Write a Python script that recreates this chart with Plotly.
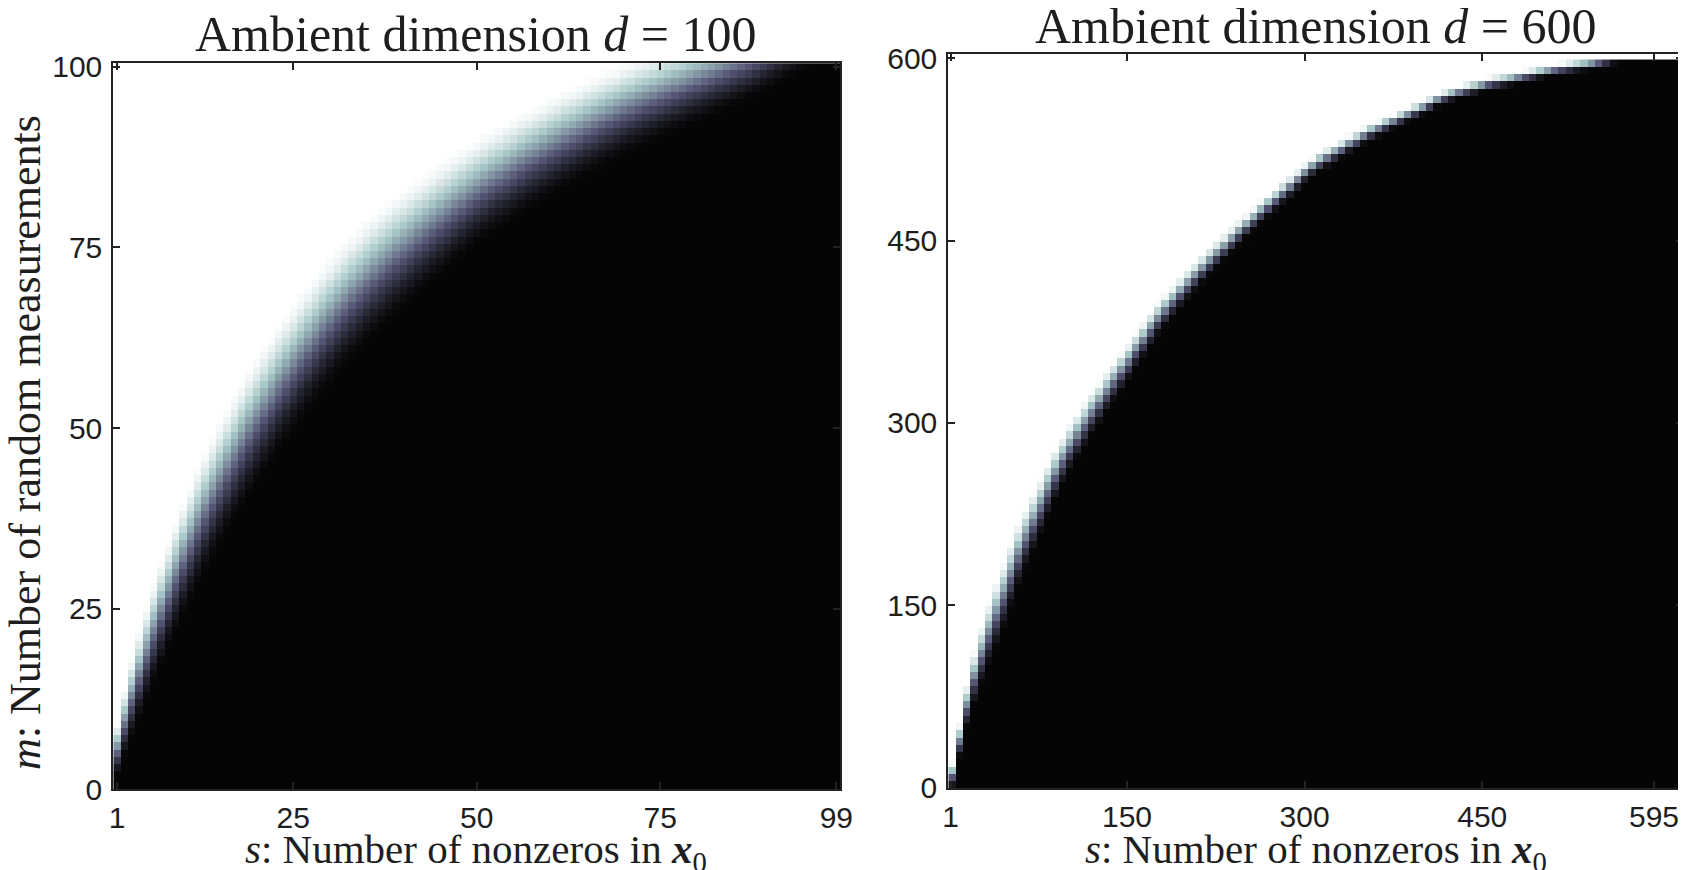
import numpy as np
import plotly.graph_objects as go

# ---------------- data ----------------
# Left panel: d = 100, columns s = 1..99, rows m = 0..100
left_s = list(range(1, 100))
left_m = list(range(0, 101))
# m at which the success probability is about 1/2, for each column s
left_m50 = [5.5, 9.2, 12.6, 15.8, 18.8, 21.7, 24.4, 27.0, 29.5, 31.9,
            34.2, 36.4, 38.5, 40.5, 42.4, 44.2, 46.0, 47.7, 49.4, 51.0,
            52.6, 54.1, 55.6, 57.0, 58.4, 59.8, 61.1, 62.4, 63.7, 64.9,
            66.1, 67.2, 68.3, 69.3, 70.3, 71.3, 72.2, 73.1, 74.0, 74.8,
            75.6, 76.5, 77.3, 78.1, 78.9, 79.7, 80.5, 81.2, 82.0, 82.7,
            83.4, 84.1, 84.7, 85.3, 85.9, 86.6, 87.2, 87.7, 88.3, 88.9,
            89.4, 90.0, 90.5, 91.0, 91.6, 92.1, 92.6, 93.1, 93.6, 94.1,
            94.5, 95.0, 95.4, 95.8, 96.2, 96.6, 97.0, 97.4, 97.8, 98.2,
            98.6, 99.0, 99.4, 99.8, 100.2, 100.6, 101.0, 101.5, 102.0, 102.5,
            103.0, 103.5, 104.0, 104.6, 105.2, 105.8, 106.4, 107.0, 107.6]
# half-width (in m) of the grey transition band, per column
left_w = [4.0, 5.0, 6.0, 6.6, 7.0, 7.4, 7.7, 8.0, 8.3, 8.5,
          8.7, 8.9, 9.0, 9.1, 9.2, 9.3, 9.4, 9.4, 9.5, 9.5,
          9.5, 9.5, 9.5, 9.5, 9.5, 9.5, 9.5, 9.5, 9.5, 9.5,
          9.4, 9.4, 9.3, 9.3, 9.2, 9.2, 9.1, 9.0, 9.0, 8.9,
          8.8, 8.7, 8.6, 8.5, 8.4, 8.3, 8.2, 8.1, 8.0, 7.9,
          7.8, 7.8, 7.7, 7.7, 7.6, 7.6, 7.5, 7.5, 7.4, 7.4,
          7.3, 7.3, 7.2, 7.2, 7.1, 7.1, 7.0, 7.0, 6.9, 6.9,
          6.8, 6.8, 6.7, 6.7, 6.6, 6.6, 6.5, 6.5, 6.4, 6.4,
          6.3, 6.3, 6.2, 6.2, 6.1, 6.1, 6.0, 6.0, 5.9, 5.9,
          5.8, 5.8, 5.7, 5.7, 5.6, 5.6, 5.5, 5.5, 5.5]

# Right panel: d = 600, 100 columns, rows m = 2, 8, ..., 596
right_m = list(range(2, 600, 6))
right_m50 = [10.0, 38.0, 66.4, 89.7, 108.7, 125.9, 142.1, 157.6, 174.0, 190.6,
             205.0, 217.9, 230.9, 244.3, 257.1, 268.8, 279.4, 289.0, 298.3, 307.6,
             316.0, 325.2, 333.6, 341.9, 350.1, 359.4, 367.8, 376.9, 385.1, 392.3,
             399.5, 406.8, 413.7, 419.9, 426.3, 432.6, 438.3, 444.0, 450.0, 455.9,
             461.6, 467.3, 473.0, 478.3, 483.5, 488.7, 493.8, 499.4, 505.1, 510.3,
             514.6, 518.3, 521.9, 525.0, 529.1, 532.2, 535.9, 539.3, 542.0, 545.0,
             547.7, 550.7, 553.4, 556.4, 559.1, 562.2, 565.3, 568.0, 570.0, 572.1,
             573.9, 575.5, 577.2, 579.0, 580.2, 581.3, 582.3, 583.8, 585.3, 586.5,
             587.8, 589.1, 590.5, 591.6, 592.5, 593.4, 594.3, 595.4, 596.8, 598.3,
             600.0, 602.0, 604.0, 606.0, 608.0, 610.0, 612.0, 614.0, 616.0, 618.0]
right_w = [12, 16, 20, 24, 27, 29, 30, 30, 30, 29,
           28, 27, 26, 25, 24, 23, 22, 21.5, 21, 20,
           19.5, 19, 18.5, 18, 17.5, 17, 16.5, 16, 15.5, 15,
           14.6, 14.2, 13.8, 13.4, 13, 12.7, 12.4, 12.1, 11.8, 11.5,
           11.2, 11, 10.8, 10.6, 10.4, 10.2, 10, 9.8, 9.6, 9.4,
           9.2, 9, 8.8, 8.6, 8.4, 8.2, 8, 7.8, 7.6, 7.4,
           7.2, 7.0, 6.9, 6.8, 6.7, 6.6, 6.5, 6.4, 6.3, 6.2,
           6.1, 6.0, 6.0, 5.9, 5.9, 5.8, 5.8, 5.7, 5.7, 5.6,
           5.6, 5.5, 5.5, 5.5, 5.5, 5.5, 5.5, 5.5, 5.5, 5.5,
           5.5, 5.5, 5.5, 5.5, 5.5, 5.5, 5.5, 5.5, 5.5, 5.5]

left_xticks = [1, 25, 50, 75, 99]
left_yticks = [0, 25, 50, 75, 100]
right_xticks = [1, 150, 300, 450, 595]
right_yticks = [0, 150, 300, 450, 600]

titles = ["Ambient dimension <i>d</i> = 100", "Ambient dimension <i>d</i> = 600"]
xlabel = "<i>s</i>: Number of nonzeros in <b><i>x</i></b><sub>0</sub>"
ylabel = "<i>m</i>: Number of random measurements"


def success(rows, m50, w):
    M = np.asarray(rows, float)[:, None]
    c = np.asarray(m50, float)[None, :]
    h = np.asarray(w, float)[None, :]
    t = np.clip((M - c + h) / (2 * h), 0, 1)
    return t * t * (3 - 2 * t)


zl = success(left_m, left_m50, left_w)
zr = success(right_m, right_m50, right_w)

bone = [[0.0, "rgb(5,5,5)"], [0.375, "rgb(84,84,116)"],
        [0.75, "rgb(167,199,199)"], [1.0, "rgb(255,255,255)"]]

# the page body has an 8 px margin; lay out in window pixels and shift
OFF = 8
W, H = 1686 - OFF, 870 - OFF


def px(x):
    return (x - OFF) / W


def py(y):
    return 1 - (y - OFF) / H


fig = go.Figure()
fig.add_trace(go.Heatmap(x=left_s, y=left_m, z=zl, colorscale=bone, zmin=0, zmax=1,
                         showscale=False, hoverinfo="skip", xaxis="x", yaxis="y"))
fig.add_trace(go.Heatmap(x0=2.2, dx=6.204, y=right_m, z=zr, colorscale=bone, zmin=0, zmax=1,
                         showscale=False, hoverinfo="skip", xaxis="x2", yaxis="y2"))

tickfont = dict(family="Liberation Sans, Arial, sans-serif", size=30, color="#1e1e1e")
common = dict(ticks="inside", ticklen=7, tickwidth=1.5, tickcolor="#222",
              showline=True, linewidth=2, linecolor="#222", mirror="ticks",
              showgrid=False, zeroline=False, tickfont=tickfont, automargin=False)

fig.update_layout(
    width=W, height=H, margin=dict(l=0, r=0, t=0, b=0, autoexpand=False),
    paper_bgcolor="white", plot_bgcolor="white", showlegend=False,
    xaxis=dict(domain=[px(113.3), px(840)], range=[0.5, 99.5], tickvals=left_xticks,
               anchor="y", ticklabelstandoff=1, **common),
    yaxis=dict(domain=[py(789.3), py(63.3)], range=[0, 100.47], tickvals=left_yticks,
               anchor="x", ticklabelstandoff=3, **common),
    xaxis2=dict(domain=[px(948.3), px(1683)], range=[-0.9, 619.5], tickvals=right_xticks,
                anchor="y2", ticklabelstandoff=1, **common),
    yaxis2=dict(domain=[py(788), py(54.3)], range=[-0.4, 603.3], tickvals=right_yticks,
                anchor="x2", ticklabelstandoff=3, **common),
)

serif = "Liberation Serif, Times New Roman, serif"
ink = "#1e1e1e"
ann = [
    dict(text=titles[0], x=px(476.5), y=py(64), xanchor="center", yanchor="bottom",
         font=dict(family=serif, size=50, color=ink)),
    dict(text=titles[1], x=px(1315.6), y=py(56), xanchor="center", yanchor="bottom",
         font=dict(family=serif, size=50, color=ink)),
    dict(text=xlabel, x=px(476.5), y=py(880), xanchor="center", yanchor="bottom",
         font=dict(family=serif, size=41, color=ink)),
    dict(text=xlabel, x=px(1315.6), y=py(880), xanchor="center", yanchor="bottom",
         font=dict(family=serif, size=41, color=ink)),
    dict(text=ylabel, x=px(25), y=py(443), xanchor="center", yanchor="middle",
         textangle=-90, font=dict(family=serif, size=44, color=ink)),
]
for a in ann:
    a.update(xref="paper", yref="paper", showarrow=False)
fig.update_layout(annotations=ann)

fig.write_html("out.html")
